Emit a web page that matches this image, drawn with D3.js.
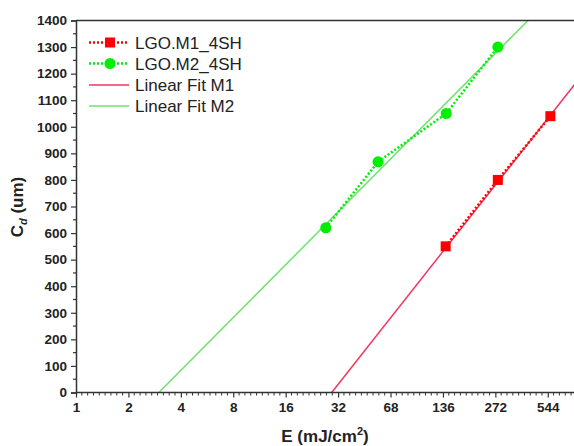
<!DOCTYPE html>
<html>
<head>
<meta charset="utf-8">
<script src="https://cdn.jsdelivr.net/npm/d3@7"></script>
<style>
  body { margin: 0; background: #fff; }
  text { font-family: "Liberation Sans", Arial, sans-serif; }
</style>
</head>
<body>
<svg id="chart" width="574" height="446"></svg>
<script>
// tick values on the E axis (labels as printed on the figure)
const xTicks = [1, 2, 4, 8, 16, 32, 68, 136, 272, 544];
const yTicks = [0, 100, 200, 300, 400, 500, 600, 700, 800, 900, 1000, 1100, 1200, 1300, 1400];

// measured points
const m1E = [141, 281, 563];
const m1C = [550, 800, 1040];
const m2E = [27.2, 56.8, 142, 281];
const m2C = [620, 868, 1050, 1300];

// linear fit end points (E, Cd)
const fitM1E = [29.4, 1088];
const fitM1C = [0, 1281];
const fitM2E = [2.99, 419];
const fitM2C = [0, 1400];

const legendNames = ["LGO.M1_4SH", "LGO.M2_4SH", "Linear Fit M1", "Linear Fit M2"];

const red = "#ff0000", green = "#00ee00";
const fitRed = "#f2365f", fitGreen = "#6fe36f";

const svg = d3.select("#chart");
const plotLeft = 76, plotTop = 20.5, plotBottom = 392.5, oct = 52.42;

// octave spacing is even, so the axis is log with the printed labels as breakpoints
const x = d3.scaleLog()
  .domain([1, 32, 68, 1088])
  .range([plotLeft, plotLeft + 5 * oct, plotLeft + 6 * oct, plotLeft + 10 * oct]);
const y = d3.scaleLinear().domain([0, 1400]).range([plotBottom, plotTop]);

const plot = svg.append("g");

// clip for data
svg.append("clipPath").attr("id", "clip")
  .append("rect").attr("x", plotLeft).attr("y", plotTop).attr("width", 574 - plotLeft).attr("height", plotBottom - plotTop);

const data = plot.append("g").attr("clip-path", "url(#clip)");

const line = d3.line().x(d => x(d[0])).y(d => y(d[1]));

data.append("path")
  .attr("d", line(d3.zip(fitM2E, fitM2C)))
  .attr("fill", "none").attr("stroke", fitGreen).attr("stroke-width", 1.5);
data.append("path")
  .attr("d", line(d3.zip(fitM1E, fitM1C)))
  .attr("fill", "none").attr("stroke", fitRed).attr("stroke-width", 1.5);

data.append("path")
  .attr("d", line(d3.zip(m2E, m2C)))
  .attr("fill", "none").attr("stroke", green).attr("stroke-width", 2.5)
  .attr("stroke-dasharray", "2,2");
data.append("path")
  .attr("d", line(d3.zip(m1E, m1C)))
  .attr("fill", "none").attr("stroke", red).attr("stroke-width", 2.5)
  .attr("stroke-dasharray", "2,2");

data.selectAll(".pt2")
  .data(d3.zip(m2E, m2C))
  .enter()
  .append("circle")
  .attr("class", "pt2")
  .attr("cx", d => x(d[0]))
  .attr("cy", d => y(d[1]))
  .attr("r", 5.5)
  .style("fill", green);

data.selectAll(".pt1")
  .data(d3.zip(m1E, m1C))
  .enter()
  .append("rect")
  .attr("class", "pt1")
  .attr("x", d => x(d[0]) - 5)
  .attr("y", d => y(d[1]) - 5)
  .attr("width", 10)
  .attr("height", 10)
  .style("fill", red);

// frame top
plot.append("line")
  .attr("x1", plotLeft).attr("x2", 574).attr("y1", plotTop).attr("y2", plotTop)
  .attr("stroke", "#333").attr("stroke-width", 1.5);

// y axis
const yAxis = plot.append("g").attr("transform", `translate(${plotLeft},0)`)
  .call(d3.axisLeft(y).tickValues(yTicks).tickFormat(d => d).tickSize(5).tickPadding(4));
yAxis.select(".domain").attr("stroke", "#333").attr("stroke-width", 1.5);
yAxis.selectAll(".tick line").attr("stroke", "#333").attr("stroke-width", 1.2);
yAxis.selectAll("text")
  .attr("font-size", 13.5).attr("font-weight", "bold").attr("fill", "#222")
  .style("font-family", "'Liberation Sans', Arial, sans-serif");
yAxis.selectAll(".minor")
  .data(d3.range(50, 1400, 100))
  .enter().append("line")
  .attr("x1", -3).attr("x2", 0)
  .attr("y1", d => y(d)).attr("y2", d => y(d))
  .attr("stroke", "#333").attr("stroke-width", 1.2);

// x axis
const xAxis = plot.append("g").attr("transform", `translate(0,${plotBottom})`)
  .call(d3.axisBottom(x).tickValues(xTicks).tickFormat(d => d).tickSize(5).tickPadding(5));
xAxis.select(".domain").attr("stroke", "#333").attr("stroke-width", 1.5).attr("d", `M${plotLeft},0H574`);
xAxis.selectAll(".tick line").attr("stroke", "#333").attr("stroke-width", 1.2);
xAxis.selectAll("text")
  .attr("font-size", 13.5).attr("font-weight", "bold").attr("fill", "#222")
  .style("font-family", "'Liberation Sans', Arial, sans-serif");

// minor ticks: 8 per octave, evenly spaced on screen
const minorPx = [];
for (let k = 0; k < 10; k++) {
  for (let j = 1; j <= 8; j++) {
    const px = x(xTicks[k]) + j * oct / 9;
    if (px < 574) minorPx.push(px);
  }
}
xAxis.selectAll(".minor")
  .data(minorPx)
  .enter().append("line")
  .attr("x1", d => d).attr("x2", d => d)
  .attr("y1", 0).attr("y2", 3)
  .attr("stroke", "#333").attr("stroke-width", 1);

// axis titles
const xt = svg.append("text")
  .attr("x", 325).attr("y", 442)
  .attr("text-anchor", "middle")
  .attr("font-size", 17).attr("font-weight", "bold").attr("fill", "#222");
xt.append("tspan").text("E (mJ/cm");
xt.append("tspan").attr("font-size", 11).attr("dy", -7).text("2");
xt.append("tspan").attr("dy", 7).text(")");

const yt = svg.append("text")
  .attr("transform", "translate(23,207) rotate(-90)")
  .attr("text-anchor", "middle")
  .attr("font-size", 17).attr("font-weight", "bold").attr("fill", "#222");
yt.append("tspan").text("C");
yt.append("tspan").attr("font-size", 11).attr("dy", 4).attr("font-style", "italic").text("d");
yt.append("tspan").attr("dy", -4).text(" (um)");

// legend
const legY = [42.5, 63.5, 85, 106];
const legColor = [red, green, fitRed, fitGreen];
const leg = svg.append("g");
legendNames.forEach((name, i) => {
  const g = leg.append("g").attr("transform", `translate(0,${legY[i]})`);
  const l = g.append("line").attr("x1", 89).attr("x2", 129).attr("y1", 0).attr("y2", 0)
    .attr("stroke", legColor[i]);
  if (i < 2) {
    l.attr("stroke-width", 2.5).attr("stroke-dasharray", "2,2");
    if (i === 0) {
      g.append("rect").attr("x", 105).attr("y", -5).attr("width", 10).attr("height", 10).style("fill", red);
    } else {
      g.append("circle").attr("cx", 110).attr("cy", 0).attr("r", 5.5).style("fill", green);
    }
  } else {
    l.attr("stroke-width", 1.5);
  }
  g.append("text").attr("x", 135).attr("y", 6)
    .attr("font-size", 17).attr("fill", "#222").text(name);
});
</script>
</body>
</html>
